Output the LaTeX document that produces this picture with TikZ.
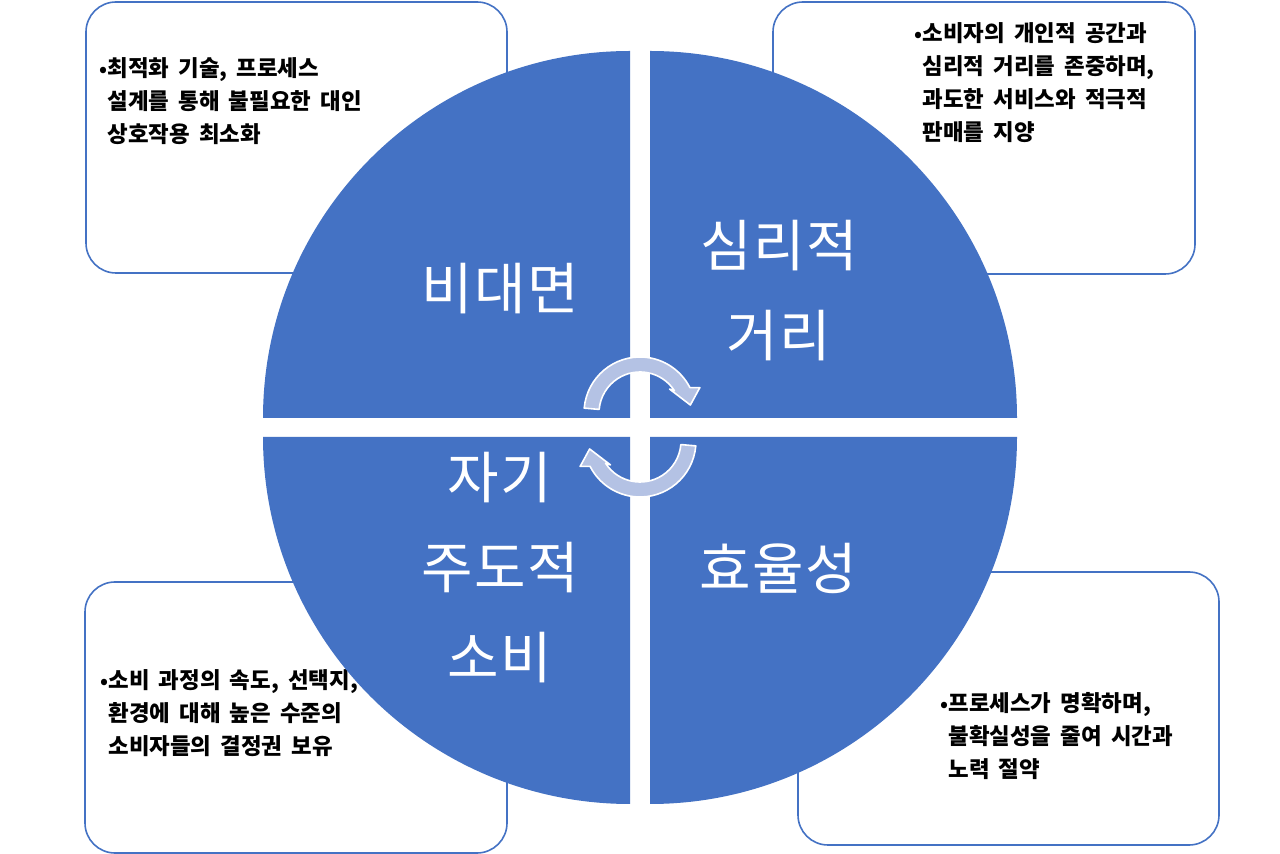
\documentclass[tikz,border=0pt]{standalone}
\usepackage{fontspec}
\newfontfamily\cjk{Noto Sans CJK KR}[LetterSpace=3]
\newfontfamily\cjkbox{Noto Sans CJK KR}[WordSpace=1.8]
\definecolor{quadblue}{RGB}{68,114,196}
\definecolor{arrowfill}{RGB}{180,194,228}
\newcommand\bul{{\fontsize{10}{10}\selectfont\textbullet}}
\newcommand\ind{\phantom{\bul}}

\begin{document}
\begin{tikzpicture}[x=0.5pt, y=-0.5pt,
    infobox/.style={draw=quadblue, line width=0.8pt, fill=white, rounded corners=15pt},
    quad/.style={fill=quadblue},
    cyclearrow/.style={fill=arrowfill, draw=white, line width=0.8pt, line join=round},
    boxtext/.style={font=\cjkbox\bfseries\fontsize{11.2}{16.5}\selectfont, align=left, anchor=north west, inner sep=0pt},
    biglabel/.style={font=\cjk\fontsize{28}{45}\selectfont, text=white, align=center, inner sep=0pt}]
    \useasboundingbox (0,0) rectangle (1280,854);
    \fill[white] (0,0) rectangle (1280,854);

    % Side boxes
    \draw[infobox] (86,2) rectangle (507,273);
    \draw[infobox] (773,2) rectangle (1195,274);
    \draw[infobox] (85,582) rectangle (507,853);
    \draw[infobox] (798,572) rectangle (1219,845);

    \node[boxtext] (tltext) at (99,57) {\bul 최적화 기술, 프로세스\\\ind 설계를 통해 불필요한 대인\\\ind 상호작용 최소화};
    \node[boxtext] (trtext) at (914,22) {\bul 소비자의 개인적 공간과\\\ind 심리적 거리를 존중하며,\\\ind 과도한 서비스와 적극적\\\ind 판매를 지양};
    \node[boxtext] (bltext) at (100,669) {\bul 소비 과정의 속도, 선택지,\\\ind 환경에 대해 높은 수준의\\\ind 소비자들의 결정권 보유};
    \node[boxtext] (brtext) at (940,692) {\bul 프로세스가 명확하며,\\\ind 불확실성을 줄여 시간과\\\ind 노력 절약};

    % Quadrants
    \fill[quad] (630,418) -- ++(180:367) arc[start angle=180, end angle=270, radius=367] -- cycle;
    \fill[quad] (650,418) -- ++(270:367) arc[start angle=270, end angle=360, radius=367] -- cycle;
    \fill[quad] (650,437) -- ++(0:367) arc[start angle=0, end angle=90, radius=367] -- cycle;
    \fill[quad] (630,437) -- ++(90:367) arc[start angle=90, end angle=180, radius=367] -- cycle;

    \node[biglabel] (untact) at (500,289) {비대면};
    \node[biglabel] (distance) at (779,291) {심리적\\거리};
    \node[biglabel] (selfdir) at (500,568) {자기\\주도적\\소비};
    \node[biglabel] (efficiency) at (778,568) {효율성};

    % Cycle arrows
    \begin{scope}[shift={(640,413)}]
        \draw[cyclearrow] (185:56) arc[start angle=185, end angle=333, radius=56]
            -- (337:65) -- (351:51) -- (321:38) -- (327:41)
            arc[start angle=327, end angle=185, radius=41] -- cycle;
    \end{scope}
    \begin{scope}[shift={(640,441)}]
        \draw[cyclearrow] (5:56) arc[start angle=5, end angle=153, radius=56]
            -- (157:65) -- (171:51) -- (141:38) -- (147:41)
            arc[start angle=147, end angle=5, radius=41] -- cycle;
    \end{scope}
\end{tikzpicture}
\end{document}
